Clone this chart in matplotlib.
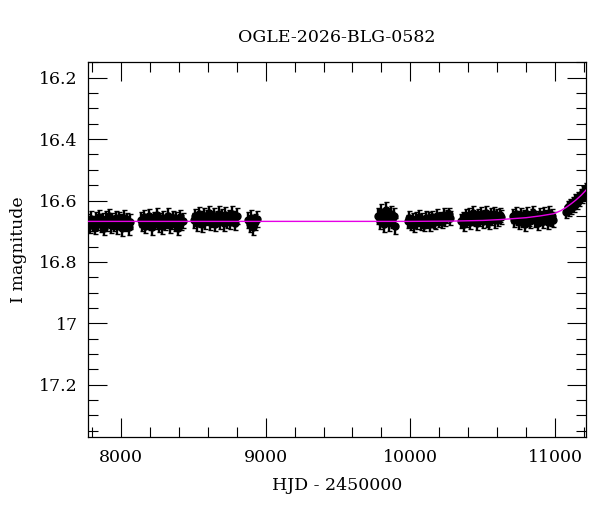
import matplotlib
matplotlib.use("Agg")
import matplotlib.pyplot as plt
from matplotlib.ticker import MultipleLocator, FuncFormatter

# photometry per observing season (HJD - 2450000, I mag)
hjd_s1 = [7774, 7786, 7795, 7806, 7818, 7829, 7841, 7850, 7862, 7873, 7885, 7896, 7907, 7919,
          7930, 7941, 7953, 7964, 7976, 7987, 7998, 8010, 8022, 8033, 8045, 8056, 8066]
mag_s1 = [16.668, 16.681, 16.659, 16.674, 16.685, 16.662, 16.671, 16.655, 16.678, 16.666, 16.689,
          16.660, 16.673, 16.652, 16.680, 16.667, 16.676, 16.658, 16.684, 16.663, 16.670, 16.690,
          16.657, 16.675, 16.665, 16.686, 16.669]

hjd_s2 = [8137, 8148, 8159, 8170, 8181, 8192, 8204, 8215, 8226, 8237, 8248, 8260, 8271, 8282,
          8293, 8305, 8316, 8327, 8338, 8349, 8361, 8372, 8383, 8395, 8406, 8417, 8427]
mag_s2 = [16.662, 16.676, 16.655, 16.683, 16.668, 16.651, 16.672, 16.687, 16.660, 16.670, 16.648,
          16.679, 16.664, 16.684, 16.657, 16.673, 16.666, 16.650, 16.681, 16.669, 16.658, 16.677,
          16.663, 16.688, 16.654, 16.671, 16.666]

hjd_s3 = [8504, 8515, 8527, 8538, 8550, 8561, 8573, 8584, 8596, 8607, 8619, 8630, 8642, 8653,
          8665, 8676, 8688, 8699, 8711, 8722, 8734, 8745, 8757, 8768, 8780, 8791, 8804]
mag_s3 = [16.665, 16.652, 16.674, 16.645, 16.660, 16.678, 16.649, 16.667, 16.656, 16.642, 16.671,
          16.661, 16.650, 16.676, 16.658, 16.644, 16.668, 16.654, 16.673, 16.647, 16.663, 16.655,
          16.669, 16.643, 16.659, 16.672, 16.651]

hjd_s4 = [8876, 8889, 8901, 8912, 8925, 8937]
mag_s4 = [16.664, 16.678, 16.656, 16.685, 16.669, 16.660]

hjd_s5 = [9779, 9789, 9800, 9810, 9821, 9831, 9842, 9852, 9863, 9873, 9884, 9895]
mag_s5 = [16.650, 16.668, 16.638, 16.660, 16.678, 16.632, 16.655, 16.673, 16.645, 16.663, 16.652,
          16.682]

hjd_s6 = [9981, 9992, 10003, 10015, 10026, 10037, 10049, 10060, 10071, 10083, 10094, 10105, 10117,
          10128, 10139, 10151, 10162, 10173, 10185, 10196, 10207, 10219, 10230, 10241, 10253, 10264,
          10272]
mag_s6 = [16.668, 16.656, 16.675, 16.662, 16.681, 16.660, 16.670, 16.653, 16.674, 16.664, 16.679,
          16.657, 16.668, 16.661, 16.676, 16.655, 16.666, 16.671, 16.650, 16.663, 16.658, 16.669,
          16.648, 16.660, 16.652, 16.645, 16.657]

hjd_s7 = [10350, 10361, 10372, 10382, 10393, 10404, 10415, 10425, 10436, 10447, 10458, 10468,
          10479, 10490, 10501, 10511, 10522, 10533, 10544, 10554, 10565, 10576, 10587, 10597,
          10608, 10619, 10628]
mag_s7 = [16.668, 16.660, 16.675, 16.652, 16.664, 16.647, 16.670, 16.657, 16.642, 16.661, 16.672,
          16.650, 16.659, 16.645, 16.666, 16.654, 16.640, 16.662, 16.671, 16.648, 16.657, 16.644,
          16.665, 16.651, 16.660, 16.646, 16.655]

hjd_s8 = [10708, 10719, 10730, 10740, 10751, 10762, 10773, 10784, 10795, 10806, 10817, 10828,
          10839, 10850, 10860, 10871, 10882, 10893, 10904, 10915, 10926, 10937, 10948, 10959,
          10970, 10980, 10989]
mag_s8 = [16.650, 16.664, 16.643, 16.657, 16.671, 16.648, 16.662, 16.655, 16.676, 16.645, 16.660,
          16.667, 16.651, 16.640, 16.663, 16.656, 16.672, 16.647, 16.658, 16.666, 16.644, 16.654,
          16.669, 16.641, 16.659, 16.650, 16.662]

hjd_s9 = [11077, 11086, 11095, 11104, 11113, 11122, 11131, 11140, 11149, 11158, 11167, 11176,
          11185, 11194, 11203, 11212]
mag_s9 = [16.638, 16.622, 16.630, 16.615, 16.625, 16.608, 16.617, 16.600, 16.607, 16.592, 16.598,
          16.583, 16.589, 16.573, 16.578, 16.562]

# typical error bar per season
season_err = [0.025, 0.024, 0.025, 0.026, 0.026, 0.022, 0.023, 0.023, 0.020]

# model light curve
model_hjd = [7770, 9000, 10000, 10300, 10500, 10625, 10800, 10900, 10990, 11040, 11075,
             11110, 11145, 11180, 11214]
model_mag = [16.668, 16.668, 16.668, 16.667, 16.665, 16.662, 16.656, 16.650, 16.643, 16.633,
             16.623, 16.611, 16.598, 16.583, 16.566]

plt.rcParams['font.family'] = ['DejaVu Serif']

fig = plt.figure(figsize=(6, 5.12), dpi=100)
ax = fig.add_axes([0.146, 0.147, 0.831, 0.731])

all_hjd = [hjd_s1, hjd_s2, hjd_s3, hjd_s4, hjd_s5, hjd_s6, hjd_s7, hjd_s8, hjd_s9]
all_mag = [mag_s1, mag_s2, mag_s3, mag_s4, mag_s5, mag_s6, mag_s7, mag_s8, mag_s9]
for t, m, e in zip(all_hjd, all_mag, season_err):
    ax.errorbar(t, m, yerr=e, fmt='o', color='black', ms=5, elinewidth=1.7,
                capsize=1.8, capthick=1.0, zorder=2)

ax.plot(model_hjd, model_mag, color='#e600e6', lw=1.0, zorder=3)

ax.set_xlim(7770, 11215)
ax.set_ylim(17.37, 16.15)

ax.xaxis.set_major_locator(MultipleLocator(1000))
ax.xaxis.set_minor_locator(MultipleLocator(200))
ax.yaxis.set_major_locator(MultipleLocator(0.2))
ax.yaxis.set_minor_locator(MultipleLocator(0.05))
ax.yaxis.set_major_formatter(FuncFormatter(lambda v, p: '%g' % round(v, 2)))

ax.tick_params(which='both', direction='in', top=True, right=True, width=0.8,
               labelsize=12.5)
ax.tick_params(which='major', length=14)
ax.tick_params(which='minor', length=7)
ax.tick_params(axis='x', pad=9)
ax.tick_params(axis='y', pad=7)
for s in ax.spines.values():
    s.set_linewidth(0.9)

ax.set_xlabel('HJD - 2450000', fontsize=12.5, labelpad=8)
ax.set_ylabel('I magnitude', fontsize=12.5, labelpad=9)
ax.set_title('OGLE-2026-BLG-0582', fontsize=12.5, pad=15)

fig.savefig('out.png', dpi=100)
